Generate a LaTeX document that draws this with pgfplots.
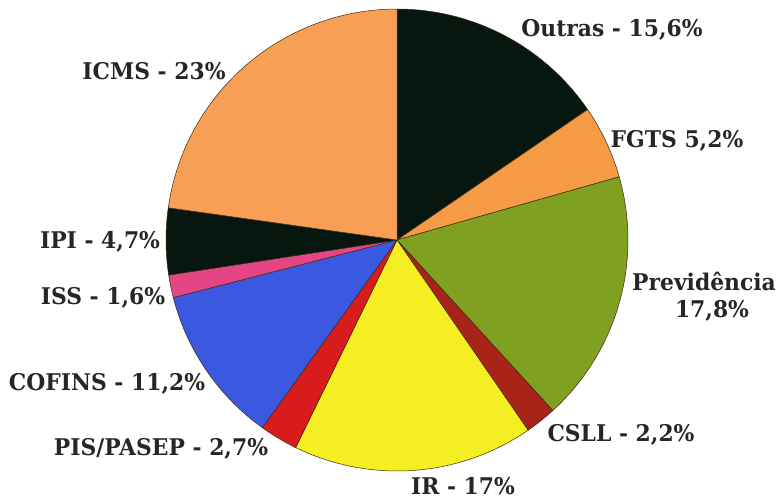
\documentclass[border=0pt]{standalone}
\usepackage{pgfplots}
\usepackage{pgfplotstable}
\pgfplotsset{compat=1.18}
\usepackage{fontspec}
\newfontfamily\lab{DejaVu Serif}[FakeStretch=0.95]
\definecolor{cdark}{HTML}{07170F}
\definecolor{corange}{HTML}{F7A055}
\definecolor{corangeb}{HTML}{F59A45}
\definecolor{colive}{HTML}{7FA020}
\definecolor{cdred}{HTML}{A82418}
\definecolor{cyellow}{HTML}{F4EE22}
\definecolor{cred}{HTML}{D81C1C}
\definecolor{cblue}{HTML}{3B58E0}
\definecolor{cpink}{HTML}{E34585}
\definecolor{cline}{HTML}{3A2A10}
\pgfplotstableread[col sep=comma]{
name,value,color
Outras,15.6,cdark
FGTS,5.2,corangeb
Previdencia,17.8,colive
CSLL,2.2,cdred
IR,17,cyellow
PIS,2.7,cred
COFINS,11.2,cblue
ISS,1.6,cpink
IPI,4.7,cdark
ICMS,23,corange
}\piedata
\begin{document}
\begin{tikzpicture}
\begin{axis}[scale only axis, width=781pt, height=499pt,
  xmin=0, xmax=781, ymin=0, ymax=499, hide axis, clip=false]
\path (axis cs:0,0) rectangle (axis cs:781,499);
\pgfplotstablegetrowsof{\piedata}
\pgfmathtruncatemacro\nrows{\pgfplotsretval-1}
\def\cum{0}
\pgfplotsforeachungrouped \i in {0,...,\nrows}{%
  \pgfplotstablegetelem{\i}{value}\of\piedata \let\v\pgfplotsretval
  \pgfplotstablegetelem{\i}{color}\of\piedata \let\c\pgfplotsretval
  \pgfmathsetmacro\a{90-\cum*3.6/1.01}%
  \pgfmathsetmacro\b{90-(\cum+\v)*3.6/1.01}%
  \edef\temp{\noexpand\addplot[fill=\c, draw=cline, line width=0.5pt, domain=\b:\a, samples=60]
     ({397+231*cos(x)},{259+231*sin(x)}) -- (axis cs:397,259) -- cycle;}%
  \temp
  \pgfmathsetmacro\cum{\cum+\v}%
}
\begin{scope}[every node/.style={font=\lab\bfseries\fontsize{23}{26}\selectfont, inner sep=0pt, anchor=base, text=black!85}]
\node at (axis cs:612,462) {Outras - 15,6\%};
\node at (axis cs:677,352) {FGTS 5,2\%};
\node at (axis cs:704,209) {Previdência};
\node at (axis cs:712,182) {17,8\%};
\node at (axis cs:621,58) {CSLL - 2,2\%};
\node at (axis cs:463,5) {IR - 17\%};
\node at (axis cs:161,44) {PIS/PASEP - 2,7\%};
\node at (axis cs:107,109) {COFINS - 11,2\%};
\node at (axis cs:103,195) {ISS - 1,6\%};
\node at (axis cs:100,251) {IPI - 4,7\%};
\node at (axis cs:154,419) {ICMS - 23\%};
\end{scope}
\end{axis}
\end{tikzpicture}
\end{document}
